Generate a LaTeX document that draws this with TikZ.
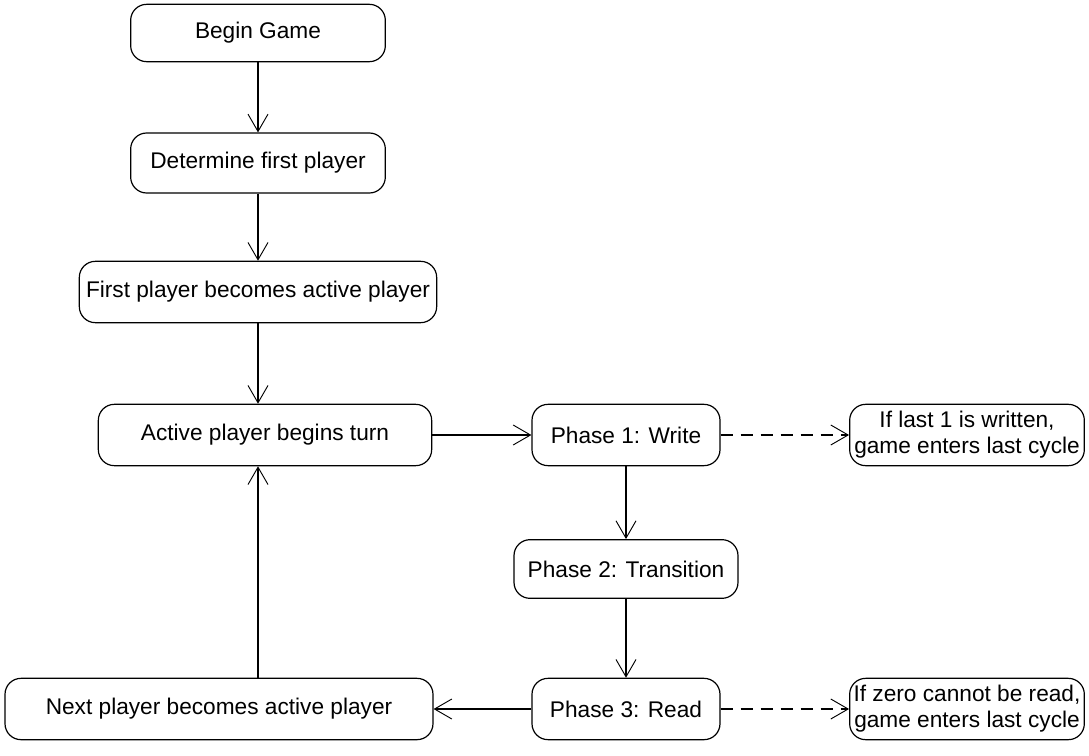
\documentclass[tikz,border=0pt]{standalone}
\usepackage{fontspec}
\setmainfont{Liberation Sans}
\usetikzlibrary{arrows.meta}

\begin{document}
\begin{tikzpicture}[x=0.75pt, y=-0.75pt]
    \tikzstyle{block} = [draw, rectangle, rounded corners=12pt, text centered, align=center, inner sep=1pt, line width=0.9pt, font=\fontsize{17}{19.5}\selectfont];
    \tikzstyle{line} = [draw, line width=0.8pt, -{Straight Barb[length=13pt, width=15pt, line width=0.7pt]}];
    \tikzstyle{dline} = [line, dash pattern=on 9pt off 6pt];
    \useasboundingbox (0,0) rectangle (1089,756);
    \node[block, minimum width=191pt, minimum height=43pt] (begin) at (258,33) {Begin Game};
    \node[block, minimum width=191pt, minimum height=45pt] (first) at (258,163) {Determine first player};
    \node[block, minimum width=268pt, minimum height=46pt] (becomes) at (258,292) {First player becomes active player};
    \node[block, minimum width=250pt, minimum height=46pt] (active) at (265,435) {Active player begins turn};
    \node[block, minimum width=141pt, minimum height=46pt] (write) at (626,435) {Phase 1: Write};
    \node[block, minimum width=176pt, minimum height=46pt] (lastone) at (967,435) {If last 1 is written,\\game enters last cycle};
    \node[block, minimum width=168pt, minimum height=44pt] (trans) at (626,569) {Phase 2: Transition};
    \node[block, minimum width=141pt, minimum height=46pt] (read) at (626,709) {Phase 3: Read};
    \node[block, minimum width=321pt, minimum height=46pt] (next) at (219,709) {Next player becomes active player};
    \node[block, minimum width=176pt, minimum height=46pt] (zero) at (967,709) {If zero cannot be read,\\game enters last cycle};
    \path[line] (begin) -- (first);
    \path[line] (first) -- (becomes);
    \path[line] (becomes) -- (becomes |- active.north);
    \path[line] (active) -- (write);
    \path[dline] (write) -- (lastone);
    \path[line] (write) -- (trans);
    \path[line] (trans) -- (read);
    \path[dline] (read) -- (zero);
    \path[line] (read) -- (next);
    \path[line] (next.north -| becomes) -- (becomes |- active.south);
\end{tikzpicture}
\end{document}
